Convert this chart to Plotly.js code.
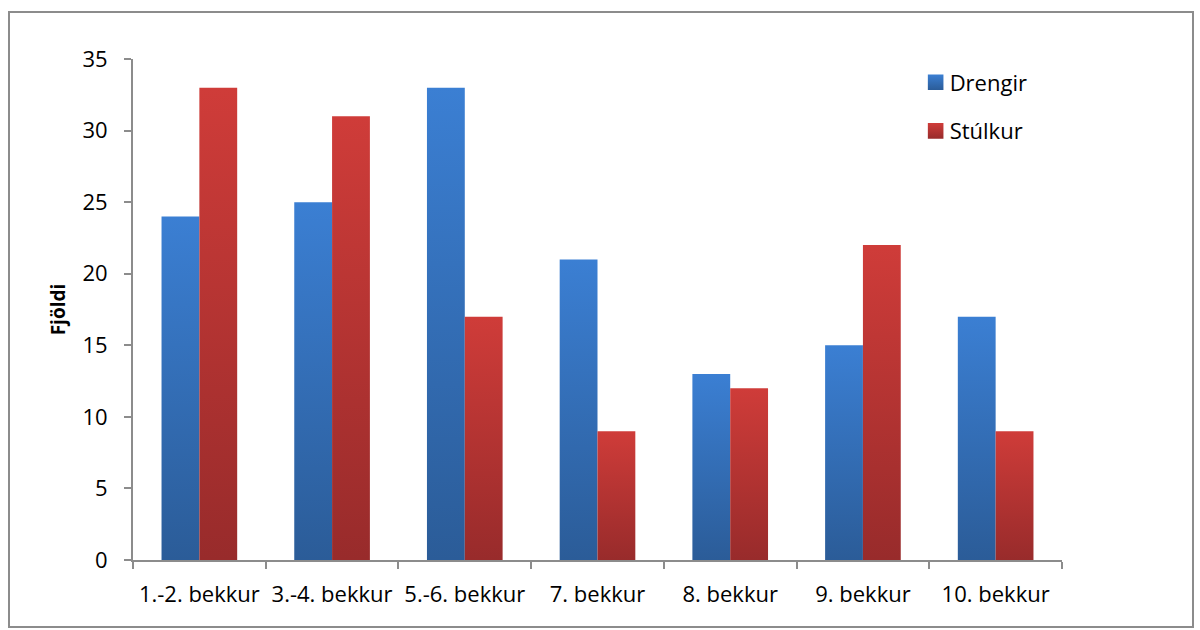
<!DOCTYPE html>
<html>
<head>
<meta charset="utf-8">
<script src="https://cdn.plot.ly/plotly-3.0.1.min.js"></script>
<style>
  html, body { margin: 0; padding: 0; background: #fff; }
  #wrap { position: relative; width: 1200px; height: 630px; }
  #chart { position: absolute; left: 0; top: 0; width: 1200px; height: 630px; }
  #frame { position: absolute; left: 8px; top: 11px; width: 1182px; height: 613px; border: 2px solid #8c8c8c; pointer-events: none; }
</style>
</head>
<body>
<div id="wrap">
  <div id="chart"></div>
  <div id="frame"></div>
</div>
<script>
const categories = ["1.-2. bekkur", "3.-4. bekkur", "5.-6. bekkur", "7. bekkur", "8. bekkur", "9. bekkur", "10. bekkur"];
const drengir = [24, 25, 33, 21, 13, 15, 17];
const stulkur = [33, 31, 17, 9, 12, 22, 9];
const seriesNames = ["Drengir", "Stúlkur"];
const yTicks = [0, 5, 10, 15, 20, 25, 30, 35];

const FONT = "'Open Sans', Lato, sans-serif";
const FS = 22;

const traces = [
  { type: "bar", x: categories, y: drengir, name: seriesNames[0], legendgroup: "a",
    marker: { color: "#336fbd", line: { width: 0 } }, hoverinfo: "x+y+name" },
  { type: "bar", x: categories, y: stulkur, name: seriesNames[1], legendgroup: "b",
    marker: { color: "#b83533", line: { width: 0 } }, hoverinfo: "x+y+name" }
];

const layout = {
  width: 1200, height: 630,
  margin: { l: 133, r: 138, t: 59, b: 70 },
  paper_bgcolor: "rgba(0,0,0,0)",
  plot_bgcolor: "rgba(0,0,0,0)",
  font: { family: FONT, size: FS, color: "#000" },
  barmode: "group",
  bargap: 0.43,
  bargroupgap: 0,
  showlegend: true,
  legend: {
    x: 0.836, y: 0.995, xanchor: "left", yanchor: "top",
    traceorder: "grouped", tracegroupgap: 17,
    font: { family: FONT, size: FS, color: "#000" },
    bgcolor: "rgba(0,0,0,0)", itemwidth: 30
  },
  xaxis: {
    type: "category",
    showline: true, linecolor: "#8c8c8c", linewidth: 2,
    ticks: "outside", tickson: "boundaries", ticklen: 7, tickcolor: "#8c8c8c", tickwidth: 2,
    showgrid: false, zeroline: false,
    ticklabelstandoff: 14,
    tickfont: { family: FONT, size: FS, color: "#000" }
  },
  yaxis: {
    range: [0, 35],
    tickvals: yTicks,
    ticktext: yTicks.map(String),
    showline: true, linecolor: "#8c8c8c", linewidth: 2,
    ticks: "outside", ticklen: 7, tickcolor: "#8c8c8c", tickwidth: 2,
    showgrid: false, zeroline: false,
    ticklabelstandoff: 12,
    tickfont: { family: FONT, size: FS, color: "#000" },
    title: { text: "<b>Fjöldi</b>", font: { family: FONT, size: 19, color: "#000" }, standoff: 12 }
  }
};

Plotly.newPlot("chart", traces, layout, { displayModeBar: false, staticPlot: true }).then(function (gd) {
  // apply vertical gradients like the original spreadsheet chart
  const svg = gd.querySelector("svg.main-svg");
  const ns = "http://www.w3.org/2000/svg";
  const defs = document.createElementNS(ns, "defs");
  const grads = [["gBlue", "#3b7fd3", "#2b5c98"], ["gRed", "#cf3c39", "#982b2b"]];
  grads.forEach(function (g) {
    const lg = document.createElementNS(ns, "linearGradient");
    lg.setAttribute("id", g[0]);
    lg.setAttribute("x1", "0"); lg.setAttribute("y1", "0");
    lg.setAttribute("x2", "0"); lg.setAttribute("y2", "1");
    const s1 = document.createElementNS(ns, "stop");
    s1.setAttribute("offset", "0"); s1.setAttribute("stop-color", g[1]);
    const s2 = document.createElementNS(ns, "stop");
    s2.setAttribute("offset", "1"); s2.setAttribute("stop-color", g[2]);
    lg.appendChild(s1); lg.appendChild(s2);
    defs.appendChild(lg);
  });
  svg.insertBefore(defs, svg.firstChild);
  const barTraces = gd.querySelectorAll(".barlayer .trace.bars");
  barTraces.forEach(function (t, i) {
    t.querySelectorAll("path").forEach(function (p) { p.style.fill = "url(#" + grads[i][0] + ")"; });
  });
  const legendItems = gd.querySelectorAll(".legend .traces");
  legendItems.forEach(function (t, i) {
    t.querySelectorAll(".legendpoints path").forEach(function (p) {
      p.style.fill = "url(#" + grads[i][0] + ")";
      p.setAttribute("transform", "translate(26,0) scale(1.3)");
    });
  });
});
</script>
</body>
</html>
